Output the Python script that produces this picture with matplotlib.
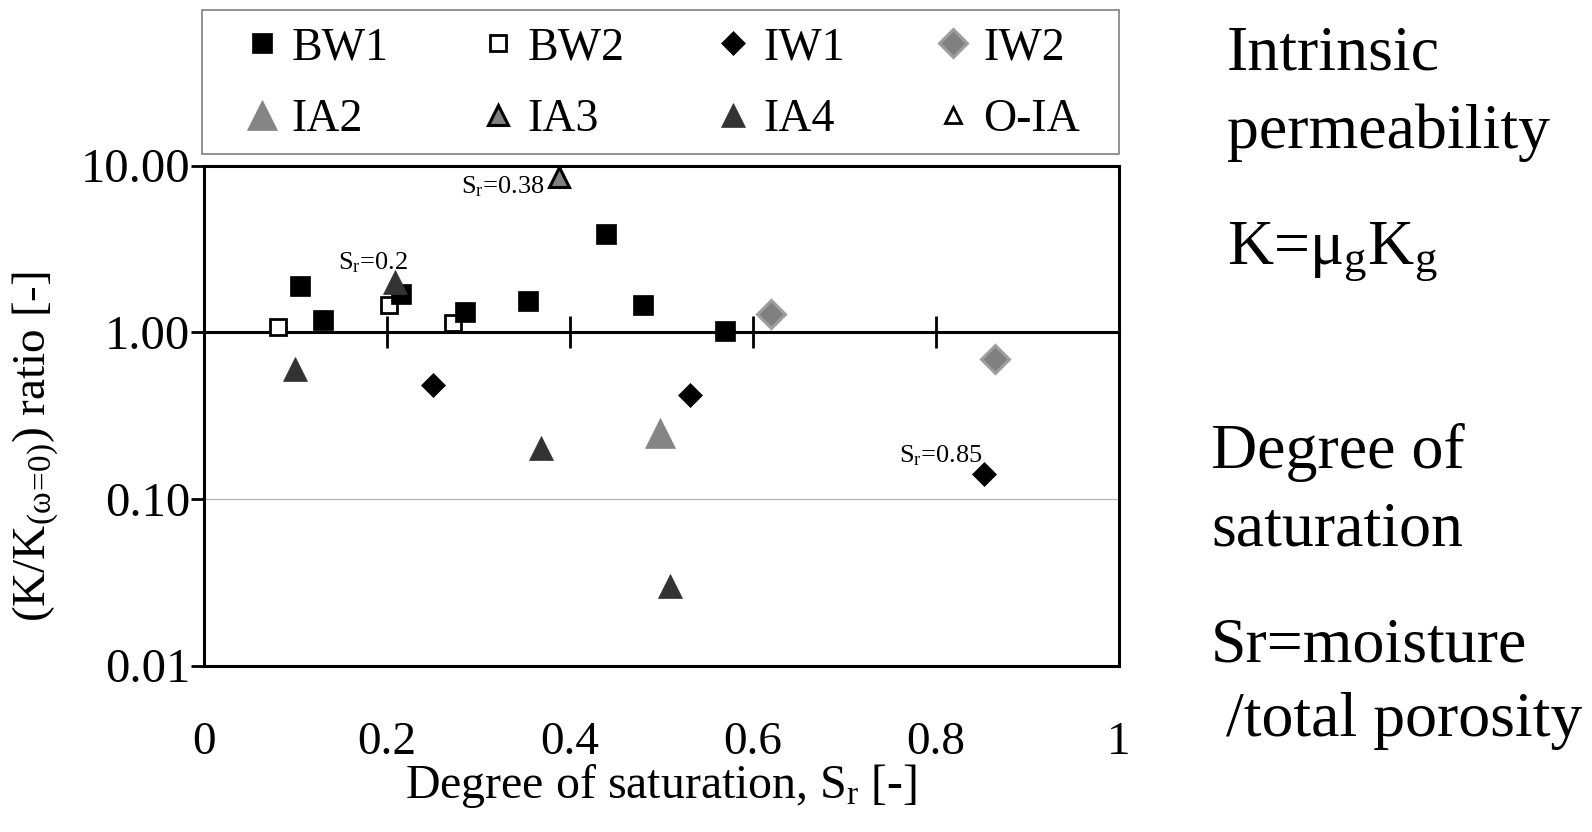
import matplotlib
matplotlib.use("Agg")
import matplotlib.pyplot as plt
from matplotlib.ticker import FuncFormatter, NullLocator, FixedLocator
from matplotlib.patches import Rectangle

plt.rcParams['font.family'] = ['Liberation Serif', 'DejaVu Serif']
plt.rcParams['mathtext.fontset'] = 'custom'
plt.rcParams['mathtext.rm'] = 'Liberation Serif'
plt.rcParams['mathtext.it'] = 'Liberation Serif:italic'

# ---- data ----
bw1_x = [0.105, 0.130, 0.215, 0.285, 0.354, 0.439, 0.480, 0.569]
bw1_y = [1.89, 1.19, 1.70, 1.32, 1.53, 3.89, 1.46, 1.02]
bw2_x = [0.081, 0.2025, 0.272]
bw2_y = [1.07, 1.46, 1.14]
iw1_x = [0.250, 0.531, 0.853]
iw1_y = [0.48, 0.42, 0.141]
iw2_x = [0.620, 0.865]
iw2_y = [1.29, 0.69]
ia2_x = [0.498]
ia2_y = [0.247]
ia3_x = [0.388]
ia3_y = [8.5]
ia4_x = [0.099, 0.209, 0.368, 0.509]
ia4_y = [0.60, 2.0, 0.202, 0.030]
oia_x = []
oia_y = []

x_ticks = [0, 0.2, 0.4, 0.6, 0.8, 1]
y_ticks = [0.01, 0.1, 1, 10]

annotations = [("S$_\\mathrm{r}$=0.38", (0.388, 8.5), (-10, -7)),
               ("S$_\\mathrm{r}$=0.2", (0.209, 2.0), (9, 14)),
               ("S$_\\mathrm{r}$=0.85", (0.853, 0.141), (-1.5, 13))]

side_texts = [("Intrinsic", 1227, 70),
              ("permeability", 1227, 148),
              ("K=$\\mathrm{μ}_\\mathrm{g}$K$_\\mathrm{g}$", 1227, 263),
              ("Degree of", 1211, 468),
              ("saturation", 1211, 546),
              ("Sr=moisture", 1211, 662),
              ("/total porosity", 1226, 736)]

W, H = 1592, 832
fig = plt.figure(figsize=(W / 100, H / 100), dpi=100)
ax = fig.add_axes([204 / W, 1 - 665.5 / H, 915 / W, 500 / H])

series = [
    ("BW2", bw2_x, bw2_y, dict(marker='s', ms=12, mfc='white', mec='black', mew=2)),
    ("BW1", bw1_x, bw1_y, dict(marker='s', ms=14, mfc='black', mec='black', mew=0.5)),
    ("IW1", iw1_x, iw1_y, dict(marker='D', ms=12, mfc='black', mec='black', mew=0.5)),
    ("IW2", iw2_x, iw2_y, dict(marker='D', ms=14, mfc='#808080', mec='#9e9e9e', mew=2.2)),
    ("IA2", ia2_x, ia2_y, dict(marker='^', ms=21, mfc='#858585', mec='#858585', mew=0.5)),
    ("IA3", ia3_x, ia3_y, dict(marker='^', ms=15, mfc='#808080', mec='black', mew=2.2)),
    ("IA4", ia4_x, ia4_y, dict(marker='^', ms=17, mfc='#333333', mec='#333333', mew=0.5)),
    ("O-IA", oia_x, oia_y, dict(marker='^', ms=12, mfc='white', mec='black', mew=2)),
]
handles = {}
for name, xs, ys, st in series:
    h, = ax.plot(xs, ys, linestyle='none', zorder=3, **st)
    handles[name] = h

ax.set_yscale('log')
ax.set_xlim(0, 1)
ax.set_ylim(0.01, 10)

# frame
for s in ax.spines.values():
    s.set_linewidth(2.2)
    s.set_color('black')

ax.yaxis.set_major_locator(FixedLocator(y_ticks))
ax.yaxis.set_minor_locator(NullLocator())
ax.yaxis.set_major_formatter(FuncFormatter(lambda v, p: "%.2f" % v))
ax.tick_params(axis='y', direction='out', length=9.5, width=2, labelsize=35, pad=0.5)
ax.yaxis.grid(True, which='major', color='#b4b4b4', linewidth=0.9)
ax.set_axisbelow(True)

ax.xaxis.set_major_locator(FixedLocator(x_ticks))
ax.xaxis.set_major_formatter(FuncFormatter(lambda v, p: "%g" % v))
ax.tick_params(axis='x', length=0, labelsize=34, pad=40)

# horizontal axis crossing at 1.0
sec = ax.secondary_xaxis(1, transform=ax.transData)
for s in sec.spines.values():
    s.set_linewidth(2.2)
    s.set_color('black')
sec.set_xticks(x_ticks, labels=[''] * len(x_ticks))
sec.tick_params(axis='x', which='both', direction='inout', length=23, width=2,
                labelbottom=False, labeltop=False)
sec.set_zorder(1)

ax.set_xlabel("Degree of saturation, S$_\\mathrm{r}$ [-]", fontsize=34.5)
ax.xaxis.set_label_coords(0.5, -0.193)
ax.set_ylabel("(K/K$_{\\mathrm{(ω}\\!=\\!\\mathrm{0)}}$) ratio [-]", fontsize=34)
ax.yaxis.label.set_va('center')
ax.yaxis.set_label_coords(-0.184, 0.437)

for txt, xy, off in annotations:
    ax.annotate(txt, xy=xy, xytext=off, textcoords='offset points',
                ha='right', va='center', fontsize=19, zorder=4)

for txt, px, py in side_texts:
    fig.text(px / W, 1 - py / H, txt, fontsize=46, ha='left', va='baseline')

# legend
order = ["BW1", "BW2", "IW1", "IW2", "IA2", "IA3", "IA4", "O-IA"]
leg_h = [handles[n] for n in order]
col_order = [0, 4, 1, 5, 2, 6, 3, 7]
leg = fig.legend([leg_h[i] for i in col_order], [order[i] for i in col_order],
                 ncol=4, mode='expand', loc='center',
                 bbox_to_anchor=(239 / W, 1 - 125 / H, (1080 - 239) / W, 82 / H),
                 frameon=False, borderpad=0, fontsize=33, handlelength=1.0,
                 handletextpad=0.15, labelspacing=0.65, borderaxespad=0)
fig.patches.append(Rectangle((202 / W, 1 - 154 / H), 917 / W, 144 / H,
                             transform=fig.transFigure, fill=False,
                             edgecolor='#808080', linewidth=1.2))

fig.savefig("out.png", dpi=100)
